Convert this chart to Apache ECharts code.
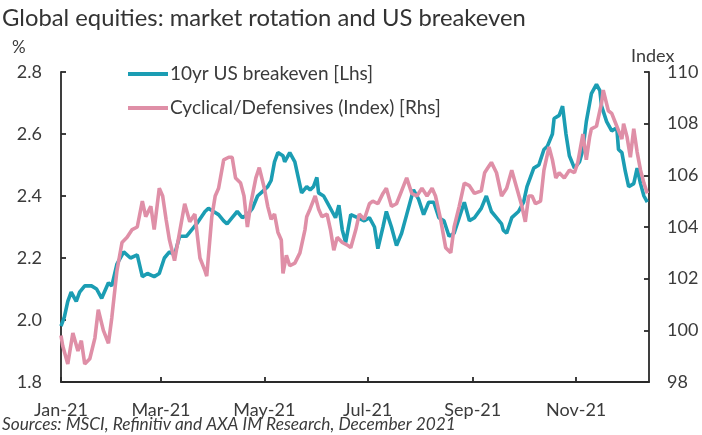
<!DOCTYPE html>
<html>
<head>
<meta charset="utf-8">
<script src="https://cdn.jsdelivr.net/npm/echarts@6/dist/echarts.min.js"></script>
<style>
html,body{margin:0;padding:0;background:#fff;}
#chart{width:702px;height:435px;}
</style>
</head>
<body>
<div id="chart"></div>
<script>
// ---- Data ----
const beDates = ['2021-01-01','2021-01-03','2021-01-05','2021-01-07','2021-01-10','2021-01-12','2021-01-15','2021-01-19','2021-01-22','2021-01-25','2021-01-29','2021-01-31',
'2021-02-03','2021-02-07','2021-02-11','2021-02-15','2021-02-18','2021-02-21','2021-02-25','2021-02-28',
'2021-03-03','2021-03-06','2021-03-09','2021-03-12','2021-03-16','2021-03-19','2021-03-22','2021-03-27','2021-03-29',
'2021-04-01','2021-04-04','2021-04-07','2021-04-09','2021-04-12','2021-04-15','2021-04-18','2021-04-21','2021-04-24','2021-04-27',
'2021-05-01','2021-05-03','2021-05-05','2021-05-07','2021-05-09','2021-05-12','2021-05-13','2021-05-16','2021-05-19','2021-05-21','2021-05-23','2021-05-26','2021-05-28','2021-05-30',
'2021-06-01','2021-06-02','2021-06-05','2021-06-07','2021-06-10','2021-06-12','2021-06-14','2021-06-16','2021-06-18','2021-06-21','2021-06-25','2021-06-29',
'2021-07-02','2021-07-05','2021-07-07','2021-07-10','2021-07-12','2021-07-15','2021-07-18','2021-07-21','2021-07-24','2021-07-27','2021-07-28','2021-07-31',
'2021-08-03','2021-08-06','2021-08-09','2021-08-12','2021-08-15','2021-08-18','2021-08-21','2021-08-24','2021-08-27','2021-08-30',
'2021-09-02','2021-09-06','2021-09-09','2021-09-12','2021-09-15','2021-09-18','2021-09-19','2021-09-21','2021-09-24','2021-09-28',
'2021-10-01','2021-10-03','2021-10-05','2021-10-07','2021-10-10','2021-10-13','2021-10-15','2021-10-18','2021-10-19','2021-10-22','2021-10-24','2021-10-26','2021-10-28','2021-10-31',
'2021-11-03','2021-11-05','2021-11-07','2021-11-09','2021-11-10','2021-11-13','2021-11-15','2021-11-16','2021-11-19','2021-11-22','2021-11-25','2021-11-26','2021-11-28','2021-11-30',
'2021-12-02','2021-12-05','2021-12-07','2021-12-09','2021-12-11','2021-12-13'];
const beValues = [1.98,2.01,2.06,2.09,2.06,2.09,2.11,2.11,2.10,2.07,2.12,2.11,
2.18,2.22,2.20,2.21,2.14,2.15,2.14,2.15,
2.20,2.22,2.21,2.27,2.27,2.29,2.31,2.35,2.36,
2.35,2.34,2.32,2.31,2.33,2.35,2.33,2.34,2.36,2.40,
2.42,2.43,2.45,2.51,2.54,2.53,2.51,2.54,2.51,2.46,2.41,2.43,2.42,2.43,
2.46,2.41,2.40,2.38,2.35,2.33,2.37,2.29,2.25,2.34,2.33,2.32,
2.33,2.30,2.23,2.30,2.35,2.30,2.24,2.28,2.34,2.40,2.42,2.39,
2.34,2.38,2.38,2.33,2.32,2.27,2.28,2.33,2.38,2.32,
2.33,2.36,2.40,2.35,2.33,2.31,2.29,2.28,2.33,2.35,
2.38,2.43,2.46,2.49,2.50,2.55,2.56,2.60,2.65,2.66,2.69,2.60,2.53,2.49,
2.51,2.55,2.64,2.70,2.73,2.76,2.74,2.69,2.64,2.61,2.62,2.55,2.54,2.48,
2.43,2.44,2.49,2.44,2.40,2.38];

const cdDates = ['2021-01-01','2021-01-02','2021-01-05','2021-01-08','2021-01-11','2021-01-13','2021-01-15','2021-01-18','2021-01-21','2021-01-23','2021-01-26','2021-01-29','2021-01-31',
'2021-02-03','2021-02-06','2021-02-09','2021-02-12','2021-02-15','2021-02-18','2021-02-20','2021-02-23','2021-02-25','2021-02-28',
'2021-03-02','2021-03-04','2021-03-06','2021-03-09','2021-03-12','2021-03-15','2021-03-18','2021-03-21','2021-03-24','2021-03-27','2021-03-28','2021-03-31',
'2021-04-02','2021-04-04','2021-04-07','2021-04-10','2021-04-12','2021-04-14','2021-04-17','2021-04-19','2021-04-21','2021-04-23','2021-04-26','2021-04-28',
'2021-05-01','2021-05-03','2021-05-05','2021-05-07','2021-05-09','2021-05-11','2021-05-12','2021-05-14','2021-05-16','2021-05-19','2021-05-22','2021-05-25','2021-05-26','2021-05-28','2021-05-31',
'2021-06-02','2021-06-04','2021-06-07','2021-06-09','2021-06-11','2021-06-13','2021-06-16','2021-06-19','2021-06-21','2021-06-24','2021-06-26','2021-06-29',
'2021-07-02','2021-07-04','2021-07-07','2021-07-10','2021-07-12','2021-07-15','2021-07-18','2021-07-21','2021-07-24','2021-07-27','2021-07-30',
'2021-08-02','2021-08-05','2021-08-08','2021-08-10','2021-08-13','2021-08-16','2021-08-19','2021-08-21','2021-08-24','2021-08-27','2021-08-30',
'2021-09-02','2021-09-06','2021-09-08','2021-09-10','2021-09-12','2021-09-15','2021-09-18','2021-09-21','2021-09-24','2021-09-27','2021-09-30',
'2021-10-02','2021-10-04','2021-10-06','2021-10-08','2021-10-11','2021-10-13','2021-10-16','2021-10-18','2021-10-20','2021-10-22','2021-10-25','2021-10-28','2021-10-31',
'2021-11-02','2021-11-05','2021-11-07','2021-11-09','2021-11-10','2021-11-13','2021-11-16','2021-11-17','2021-11-20','2021-11-22','2021-11-25','2021-11-28','2021-11-29',
'2021-12-01','2021-12-03','2021-12-05','2021-12-07','2021-12-09','2021-12-11','2021-12-13'];
const cdValues = [99.8,99.4,98.7,99.9,99.2,99.6,98.7,98.9,99.7,100.8,100.0,99.5,100.5,
102.3,103.4,103.6,103.9,104.0,105.0,104.4,104.8,103.9,105.5,
105.2,104.3,103.5,102.7,103.8,104.9,104.2,104.5,102.8,102.3,102.1,104.4,
105.2,105.5,106.6,106.7,106.7,105.9,105.7,105.2,104.0,104.9,105.9,106.3,
105.5,104.8,104.3,104.5,103.8,103.5,102.2,102.9,102.5,102.6,103.0,103.9,104.4,104.7,105.2,
104.7,104.4,104.5,103.9,103.1,103.6,103.4,103.3,103.2,103.9,104.5,104.3,
104.9,105.0,104.9,105.3,105.5,104.8,104.9,105.4,105.9,105.3,105.2,
105.5,105.2,105.5,105.2,104.3,103.2,103.0,104.0,104.8,105.7,105.6,
105.3,105.4,106.1,106.3,106.5,106.1,105.2,105.5,106.2,105.5,104.8,
104.2,105.2,105.2,104.9,105.0,106.2,107.1,106.6,105.9,106.1,105.9,106.2,106.1,
106.5,107.6,106.6,107.5,107.8,107.9,108.8,109.3,108.5,108.4,107.9,107.4,108.0,
107.5,106.7,107.8,106.9,106.2,105.7,105.3];

const xStart = '2021-01-01';
const xEnd = '2021-12-14';
const xLabelDates = ['2021-01-01','2021-03-01','2021-05-01','2021-07-01','2021-09-01','2021-11-01'];
const monthNames = ['Jan','Feb','Mar','Apr','May','Jun','Jul','Aug','Sep','Oct','Nov','Dec'];

const seriesNames = ['10yr US breakeven [Lhs]', 'Cyclical/Defensives (Index) [Rhs]'];
const titleText = 'Global equities: market rotation and US breakeven';
const sourceText = 'Sources: MSCI, Refinitiv and AXA IM Research, December 2021';

// ---- Chart ----
const FONT = 'Lato';
const TXT = '#3b3b3b';
const AX = '#2a2a2a';
const TEAL = '#1b9db3';
const PINK = '#df8fa7';

function ts(d) { const p = d.split('-').map(Number); return new Date(p[0], p[1] - 1, p[2]).getTime(); }

const chart = echarts.init(document.getElementById('chart'), null, {renderer: 'canvas'});
const beData = beDates.map((d, i) => [ts(d), beValues[i]]);
const cdData = cdDates.map((d, i) => [ts(d), cdValues[i]]);
const xTicks = xLabelDates.map(ts);

const option = {
  animation: false,
  backgroundColor: '#ffffff',
  textStyle: {fontFamily: FONT},
  grid: {left: 61, right: 53, top: 72, bottom: 53, containLabel: false},
  legend: {
    orient: 'vertical',
    left: 128,
    top: 64,
    padding: 0,
    itemWidth: 40,
    itemHeight: 4,
    itemGap: 14,
    icon: 'rect',
    textStyle: {fontFamily: FONT, fontSize: 19, color: TXT, lineHeight: 20, padding: [0, 0, 0, -3]},
    data: seriesNames
  },
  xAxis: {
    type: 'value',
    min: ts(xStart),
    max: ts(xEnd),
    axisLine: {show: true, lineStyle: {color: AX, width: 1.8}},
    axisTick: {show: true, inside: true, length: 5, lineStyle: {color: AX, width: 1.8}, customValues: xTicks},
    axisLabel: {
      customValues: xTicks,
      margin: 19,
      fontFamily: FONT,
      fontSize: 18,
      color: TXT,
      formatter: function (v) {
        const d = new Date(v);
        return monthNames[d.getMonth()] + '-' + String(d.getFullYear()).slice(2);
      }
    },
    splitLine: {show: false}
  },
  yAxis: [
    {
      type: 'value',
      min: 1.8,
      max: 2.8,
      interval: 0.2,
      position: 'left',
      axisLine: {show: true, lineStyle: {color: AX, width: 1.8}},
      axisTick: {show: true, inside: true, length: 5, lineStyle: {color: AX, width: 1.8}},
      axisLabel: {margin: 19, fontFamily: FONT, fontSize: 18, color: TXT, formatter: v => v.toFixed(1)},
      splitLine: {show: false}
    },
    {
      type: 'value',
      min: 98,
      max: 110,
      interval: 2,
      position: 'right',
      axisLine: {show: true, lineStyle: {color: AX, width: 1.8}},
      axisTick: {show: true, inside: true, length: 5, lineStyle: {color: AX, width: 1.8}},
      axisLabel: {margin: 18, fontFamily: FONT, fontSize: 18, color: TXT},
      splitLine: {show: false}
    }
  ],
  series: [
    {
      name: seriesNames[0],
      type: 'line',
      yAxisIndex: 0,
      data: beData,
      symbol: 'none',
      color: TEAL,
      lineStyle: {color: TEAL, width: 3.6},
      z: 2
    },
    {
      name: seriesNames[1],
      type: 'line',
      yAxisIndex: 1,
      data: cdData,
      symbol: 'none',
      color: PINK,
      lineStyle: {color: PINK, width: 3.6},
      z: 3
    }
  ],
  graphic: [
    {type: 'text', left: 2, top: 6, style: {text: titleText, font: '23.8px ' + FONT, fill: '#333333'}},
    {type: 'text', left: 12, top: 39, style: {text: '%', font: '17px ' + FONT, fill: TXT}},
    {type: 'text', left: 631, top: 47, style: {text: 'Index', font: '18px ' + FONT, fill: TXT}},
    {type: 'text', left: 2, top: 416, style: {text: sourceText, font: 'italic 17.3px ' + FONT, fill: TXT}}
  ]
};
chart.setOption(option);
</script>
</body>
</html>
